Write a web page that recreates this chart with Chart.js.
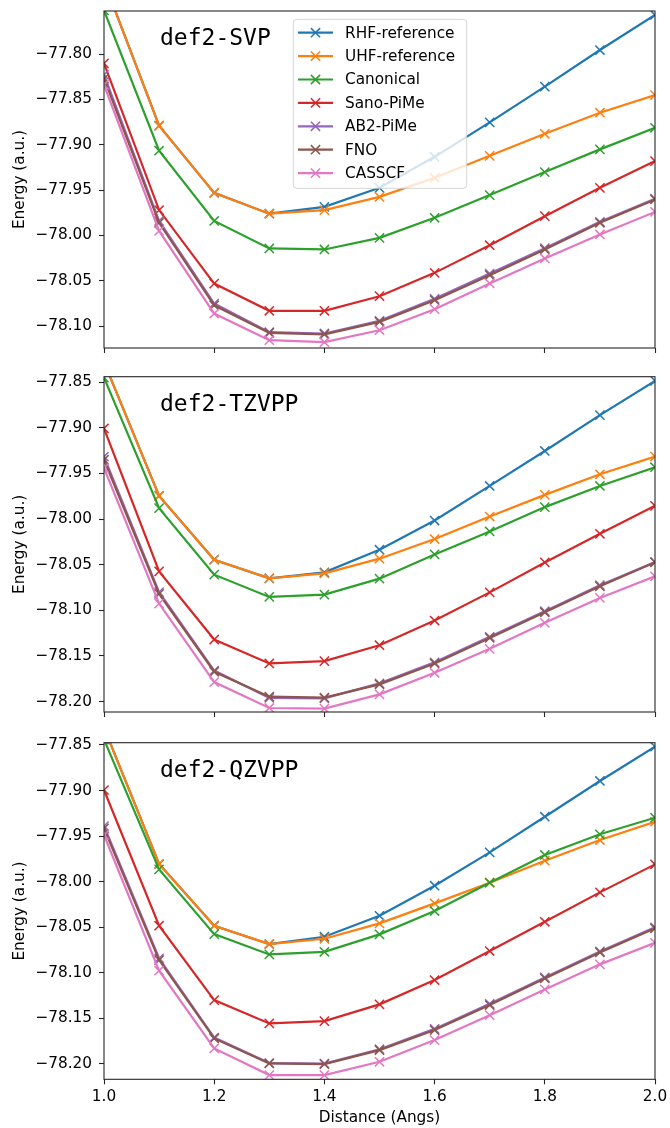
<!DOCTYPE html>
<html><head><meta charset="utf-8">
<script src="https://cdn.jsdelivr.net/npm/chart.js@4.4.1/dist/chart.umd.min.js"></script>
<style>
html,body{margin:0;padding:0;background:#fff;}
#wrap{position:relative;width:670px;height:1128px;overflow:hidden;}
.pan{position:absolute;left:0;width:670px;}
canvas{display:block;}
</style></head><body>
<div id="wrap">
<div class="pan" style="top:0;height:360px"><canvas id="c1" width="670" height="360"></canvas></div>
<div class="pan" style="top:360px;height:360px"><canvas id="c2" width="670" height="360"></canvas></div>
<div class="pan" style="top:720px;height:408px"><canvas id="c3" width="670" height="408"></canvas></div>
</div>
<script>
// ---- data ----
const distances = [1.0, 1.1, 1.2, 1.3, 1.4, 1.5, 1.6, 1.7, 1.8, 1.9, 2.0];
const seriesNames = ['RHF-reference', 'UHF-reference', 'Canonical', 'Sano-PiMe', 'AB2-PiMe', 'FNO', 'CASSCF'];
const basisNames = ['def2-SVP', 'def2-TZVPP', 'def2-QZVPP'];
const xTicks = [1.0, 1.2, 1.4, 1.6, 1.8, 2.0];

// def2-SVP
const svpRHF   = [-77.720, -77.879, -77.953, -77.976, -77.9684, -77.9475, -77.9133, -77.8753, -77.836, -77.7956, -77.757];
const svpUHF   = [-77.720, -77.879, -77.953, -77.976, -77.972, -77.9574, -77.9364, -77.9122, -77.8879, -77.8647, -77.8452];
const svpCan   = [-77.752, -77.9066, -77.984, -78.0143, -78.0154, -78.0026, -77.9805, -77.9555, -77.9301, -77.9051, -77.8813];
const svpSano  = [-77.8103, -77.972, -78.053, -78.083, -78.083, -78.0669, -78.0412, -78.0107, -77.9787, -77.9475, -77.918];
const svpAB2   = [-77.823, -77.984, -78.075, -78.1065, -78.108, -78.094, -78.0698, -78.042, -78.014, -77.985, -77.9595];
const svpFNO   = [-77.827, -77.986, -78.077, -78.1074, -78.109, -78.0952, -78.0713, -78.0437, -78.0154, -77.986, -77.9603];
const svpCAS   = [-77.834, -77.995, -78.086, -78.1154, -78.1176, -78.1044, -78.0812, -78.0529, -78.0253, -77.9989, -77.974];

// def2-TZVPP
const tzRHF    = [-77.828, -77.9746, -78.0445, -78.065, -78.0584, -78.0336, -78.0016, -77.9637, -77.9254, -77.8861, -77.8486];
const tzUHF    = [-77.828, -77.9746, -78.0445, -78.065, -78.0595, -78.0434, -78.0219, -77.9972, -77.9735, -77.9509, -77.9316];
const tzCan    = [-77.845, -77.988, -78.0609, -78.0853, -78.0828, -78.0653, -78.0387, -78.0136, -77.9869, -77.9637, -77.9432];
const tzSano   = [-77.9006, -78.0573, -78.132, -78.1582, -78.1557, -78.1382, -78.1112, -78.0803, -78.0475, -78.0161, -77.9855];
const tzAB2    = [-77.9316, -78.080, -78.166, -78.196, -78.1965, -78.180, -78.157, -78.129, -78.101, -78.0725, -78.047];
const tzFNO    = [-77.935, -78.082, -78.1673, -78.1946, -78.1957, -78.1811, -78.1582, -78.1302, -78.1021, -78.0737, -78.0475];
const tzCAS    = [-77.944, -78.0926, -78.1786, -78.207, -78.2077, -78.1921, -78.1684, -78.1422, -78.1137, -78.0864, -78.0628];

// def2-QZVPP
const qzRHF    = [-77.831, -77.9806, -78.0483, -78.0684, -78.0604, -78.0374, -78.0044, -77.9678, -77.9287, -77.8895, -77.8519];
const qzUHF    = [-77.831, -77.9806, -78.0483, -78.0684, -78.0626, -78.0457, -78.0238, -78.0011, -77.977, -77.9543, -77.9342];
const qzCan    = [-77.844, -77.9865, -78.0575, -78.0798, -78.0769, -78.0578, -78.0322, -78.0011, -77.9707, -77.948, -77.9298];
const qzSano   = [-77.8994, -78.0483, -78.1299, -78.1555, -78.153, -78.1346, -78.1079, -78.0761, -78.044, -78.0117, -77.981];
const qzAB2    = [-77.9389, -78.084, -78.171, -78.199, -78.1995, -78.1838, -78.1615, -78.134, -78.105, -78.0765, -78.050];
const qzFNO    = [-77.9415, -78.086, -78.172, -78.1994, -78.2002, -78.1848, -78.1628, -78.1354, -78.1061, -78.0776, -78.0512];
const qzCAS    = [-77.9488, -78.0977, -78.1829, -78.2122, -78.2122, -78.1976, -78.1738, -78.1464, -78.1182, -78.0907, -78.067];

// axis ranges per panel
const yMin = [-78.124, -78.2114, -78.2168];
const yMax = [-77.7526, -77.844, -77.8475];

// ---- styling ----
const colors = ['#1f77b4', '#ff7f0e', '#2ca02c', '#d62728', '#9467bd', '#8c564b', '#e377c2'];
const FONT = 'DejaVu Sans';
const FS = 15.3;
Chart.defaults.font.family = FONT;
Chart.defaults.font.size = FS;
Chart.defaults.color = '#000';

const panelSeries = [
  [svpRHF, svpUHF, svpCan, svpSano, svpAB2, svpFNO, svpCAS],
  [tzRHF, tzUHF, tzCan, tzSano, tzAB2, tzFNO, tzCAS],
  [qzRHF, qzUHF, qzCan, qzSano, qzAB2, qzFNO, qzCAS]
];

const layoutCfg = [
  {id: 'c1', padTop: 11, xH: 12, showX: false, legend: true},
  {id: 'c2', padTop: 16.7, xH: 7.3, showX: false, legend: false},
  {id: 'c3', padTop: 22.7, xH: 48.7, showX: true, legend: false}
];

const decoPlugin = {
  id: 'deco',
  afterDraw(chart, args, opts) {
    const ctx = chart.ctx;
    const a = chart.chartArea;
    ctx.save();
    ctx.strokeStyle = '#262626';
    ctx.lineWidth = 1.1;
    ctx.strokeRect(a.left, a.top, a.right - a.left, a.bottom - a.top);
    ctx.fillStyle = '#000';
    ctx.font = '23px "DejaVu Sans Mono"';
    ctx.textBaseline = 'alphabetic';
    ctx.textAlign = 'left';
    ctx.fillText(opts.title, 160, a.top + 34.3);
    if (opts.legend) {
      const bx = 293.3, by = 19.3, bw = 173.4, bh = 169, r = 3.5;
      ctx.beginPath();
      ctx.moveTo(bx + r, by);
      ctx.arcTo(bx + bw, by, bx + bw, by + bh, r);
      ctx.arcTo(bx + bw, by + bh, bx, by + bh, r);
      ctx.arcTo(bx, by + bh, bx, by, r);
      ctx.arcTo(bx, by, bx + bw, by, r);
      ctx.closePath();
      ctx.fillStyle = 'rgba(255,255,255,0.8)';
      ctx.fill();
      ctx.strokeStyle = 'rgba(204,204,204,0.8)';
      ctx.lineWidth = 1;
      ctx.stroke();
      chart.data.datasets.forEach((ds, i) => {
        const cy = 32.7 + 23.4 * i;
        ctx.strokeStyle = ds.borderColor;
        ctx.lineWidth = 2.2;
        ctx.beginPath();
        ctx.moveTo(298, cy); ctx.lineTo(333, cy);
        ctx.stroke();
        ctx.lineWidth = 1.5;
        const d = 4.6;
        ctx.beginPath();
        ctx.moveTo(315.5 - d, cy - d); ctx.lineTo(315.5 + d, cy + d);
        ctx.moveTo(315.5 - d, cy + d); ctx.lineTo(315.5 + d, cy - d);
        ctx.stroke();
        ctx.fillStyle = '#000';
        ctx.font = FS + 'px "' + FONT + '"';
        ctx.textBaseline = 'middle';
        ctx.fillText(ds.label, 345, cy + 1);
      });
    }
    ctx.restore();
  }
};

function fmtY(v) {
  return (v < 0 ? '\u2212' : '') + Math.abs(v).toFixed(2);
}

layoutCfg.forEach((cfg, p) => {
  const datasets = seriesNames.map((name, i) => ({
    label: name,
    data: distances.map((x, k) => ({x: x, y: panelSeries[p][i][k]})),
    borderColor: colors[i],
    backgroundColor: colors[i],
    pointBorderColor: colors[i],
    pointBackgroundColor: colors[i],
    borderWidth: 2.2,
    pointStyle: 'crossRot',
    pointRadius: 6.5,
    pointHoverRadius: 6.5,
    pointBorderWidth: 1.5,
    tension: 0,
    fill: false,
    order: 6 - i
  }));
  new Chart(document.getElementById(cfg.id), {
    type: 'line',
    data: {datasets},
    options: {
      responsive: false,
      animation: false,
      events: [],
      layout: {padding: {top: cfg.padTop, right: 15, left: 0, bottom: 0}},
      plugins: {
        legend: {display: false},
        tooltip: {enabled: false},
        deco: {title: basisNames[p], legend: cfg.legend}
      },
      scales: {
        x: {
          type: 'linear',
          min: distances[0],
          max: distances[distances.length - 1],
          afterBuildTicks: s => { s.ticks = xTicks.map(v => ({value: v})); },
          ticks: {
            display: cfg.showX,
            padding: 4,
            maxRotation: 0,
            autoSkip: false,
            color: '#000',
            font: {size: FS, family: FONT},
            callback: v => Number(v).toFixed(1)
          },
          grid: {display: true, drawOnChartArea: false, drawTicks: true, tickLength: 5, tickWidth: 1.1, tickColor: '#262626'},
          border: {display: false},
          title: {display: cfg.showX, text: 'Distance (Angs)', color: '#000', font: {size: FS, family: FONT}, padding: {top: 0, bottom: 1}},
          afterFit: s => { s.height = cfg.xH; s.paddingLeft = 0; s.paddingRight = 0; s.paddingTop = 0; s.paddingBottom = 0; }
        },
        y: {
          type: 'linear',
          min: yMin[p],
          max: yMax[p],
          ticks: {
            stepSize: 0.05,
            includeBounds: false,
            padding: 7,
            color: '#000',
            font: {size: FS, family: FONT},
            callback: v => fmtY(v)
          },
          grid: {display: true, drawOnChartArea: false, drawTicks: true, tickLength: 5, tickWidth: 1.1, tickColor: '#262626'},
          border: {display: false},
          title: {display: true, text: 'Energy (a.u.)', color: '#000', font: {size: FS, family: FONT}, padding: {top: 11, bottom: 0}},
          afterFit: s => { s.width = 104; s.paddingLeft = 0; s.paddingRight = 0; s.paddingTop = 0; s.paddingBottom = 0; }
        }
      }
    },
    plugins: [decoPlugin]
  });
});
</script>
</body></html>
